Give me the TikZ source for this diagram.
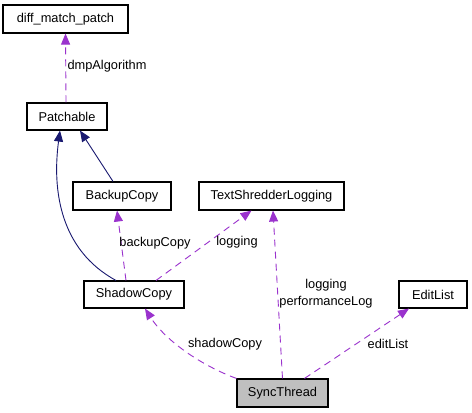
\documentclass[tikz,border=0pt]{standalone}
\usepackage{fontspec}
\setmainfont{Liberation Sans}
\usetikzlibrary{arrows.meta,calc}
\definecolor{edgepurple}{HTML}{9A32CD}
\definecolor{edgenavy}{HTML}{191970}
\definecolor{focusgray}{HTML}{BFBFBF}
\begin{document}
\begin{tikzpicture}[x=1pt,y=-1pt,
  cls/.style={draw=black,line width=1.1pt,fill=white,inner sep=0pt,font=\fontsize{12.8}{15}\selectfont},
  usage/.style={edgepurple,line width=0.9pt,dash pattern=on 7pt off 5pt,-{Triangle[length=11pt,width=9pt]}},
  inherit/.style={edgenavy,line width=0.9pt,-{Triangle[length=11pt,width=9pt]}},
  lbl/.style={font=\fontsize{12.8}{15}\selectfont,inner sep=0pt,align=center}]
\useasboundingbox (0,0) rectangle (472,413);
\fill[white] (0,0) rectangle (472,413);
\node[cls,minimum width=125pt,minimum height=28pt] (dmp) at (65.5,19) {diff\_match\_patch};
\node[cls,minimum width=80pt,minimum height=27pt] (patch) at (67,116.5) {Patchable};
\node[cls,minimum width=98pt,minimum height=28pt] (backup) at (122,196) {BackupCopy};
\node[cls,minimum width=145pt,minimum height=28pt] (tsl) at (271.5,196) {TextShredderLogging};
\node[cls,minimum width=100pt,minimum height=27pt] (shadow) at (134,294.5) {ShadowCopy};
\node[cls,minimum width=68pt,minimum height=27pt] (edit) at (433,294.5) {EditList};
\node[cls,fill=focusgray,minimum width=91pt,minimum height=28pt] (sync) at (282.5,393) {SyncThread};

\draw[usage] ([xshift=-1pt]patch.north) -- (dmp.south);
\node[lbl] (l1) at (107,66) {dmpAlgorithm};

\draw[inherit] ([xshift=-18pt]shadow.north) .. controls (60,250) and (52,190) .. ([xshift=-7pt]patch.south);
\draw[inherit] ([xshift=-9pt]backup.north) -- ([xshift=13pt]patch.south);

\draw[usage] ([xshift=-8pt]shadow.north) -- ([xshift=-5pt]backup.south);
\node[lbl] (l2) at (155,243) {backupCopy};

\draw[usage] ([xshift=22pt]shadow.north) -- ([xshift=-20pt]tsl.south);
\node[lbl] (l3) at (237,242) {logging};

\draw[usage] ([xshift=-46pt]sync.north) .. controls (200,365) and (165,340) .. ([xshift=11pt]shadow.south);
\node[lbl] (l4) at (225,344) {shadowCopy};

\draw[usage] (sync.north) -- ([xshift=1.5pt]tsl.south);
\node[lbl] (l5) at (326,294) {logging\\[2pt]performanceLog};

\draw[usage] ([xshift=22pt]sync.north) -- ([xshift=-24pt]edit.south);
\node[lbl] (l6) at (388,344) {editList};
\end{tikzpicture}
\end{document}
